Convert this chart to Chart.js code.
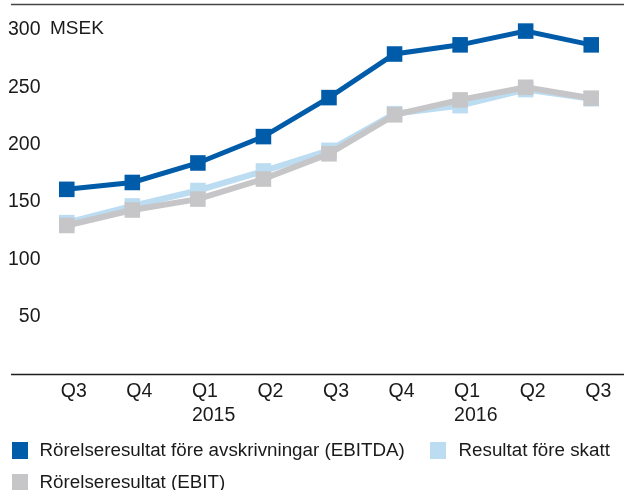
<!DOCTYPE html>
<html>
<head>
<meta charset="utf-8">
<script src="https://cdn.jsdelivr.net/npm/chart.js@4"></script>
<style>
  html, body { margin: 0; padding: 0; background: #fff; }
  #wrap { position: relative; width: 624px; height: 490px; overflow: hidden; }
  canvas { position: absolute; left: 0; top: 0; }
  .lg { position: absolute; font-family: 'Liberation Sans', Arial, sans-serif; font-size: 18.8px; color: #1a1a1a; white-space: nowrap; line-height: 18px; }
  .box { position: absolute; width: 16px; height: 16.5px; }
</style>
</head>
<body>
<div id="wrap">
  <canvas id="c" width="624" height="490"></canvas>
  <div class="box" id="b0" style="left:12px; top:442px;"></div>
  <div class="lg" id="t0" style="left:39.5px; top:441px;"></div>
  <div class="box" id="b1" style="left:430px; top:442px;"></div>
  <div class="lg" id="t1" style="left:458.5px; top:441px;"></div>
  <div class="box" id="b2" style="left:12px; top:473.5px;"></div>
  <div class="lg" id="t2" style="left:39.5px; top:472.5px;"></div>
</div>
<script>
const categories = ["Q3", "Q4", ["Q1", "2015"], "Q2", "Q3", "Q4", ["Q1", "2016"], "Q2", "Q3"];
const seriesNames = ["Rörelseresultat före avskrivningar (EBITDA)", "Resultat före skatt", "Rörelseresultat (EBIT)"];
const ebitda = [161, 167, 184, 207, 241, 279, 287, 299, 287];
const resultatForeSkatt = [132, 146.5, 160, 177, 195, 227, 234, 248, 240];
const ebit = [129.5, 143, 152.5, 170, 192, 226, 239, 250, 240.5];
const yTickValues = [50, 100, 150, 200, 250, 300];
const unitLabel = "MSEK";

const colors = ["#005ca9", "#bcdcf1", "#c6c6c8"];

[0, 1, 2].forEach(i => {
  document.getElementById('b' + i).style.background = colors[i];
  document.getElementById('t' + i).textContent = seriesNames[i];
});

const FONT = "'Liberation Sans', Arial, sans-serif";
Chart.defaults.font.family = FONT;
Chart.defaults.font.size = 19.5;
Chart.defaults.color = '#1a1a1a';

function zeroPad(scale) {
  scale.paddingTop = 0; scale.paddingBottom = 0;
  scale.paddingLeft = 0; scale.paddingRight = 0;
}

const decor = {
  id: 'decor',
  afterDraw(chart) {
    const ctx = chart.ctx;
    const y = chart.scales.y;
    ctx.save();
    ctx.strokeStyle = '#444444';
    ctx.lineWidth = 1.5;
    ctx.beginPath();
    ctx.moveTo(11, 4.5);
    ctx.lineTo(624, 4.5);
    ctx.stroke();
    ctx.strokeStyle = '#1e1e1e';
    ctx.lineWidth = 1.3;
    const yb = Math.round(y.getPixelForValue(0)) + 0.5;
    ctx.beginPath();
    ctx.moveTo(11, yb);
    ctx.lineTo(624, yb);
    ctx.stroke();
    ctx.fillStyle = '#1a1a1a';
    ctx.font = '19px ' + FONT;
    ctx.textAlign = 'left';
    ctx.textBaseline = 'middle';
    ctx.fillText(unitLabel, 50, y.getPixelForValue(yTickValues[yTickValues.length - 1]) - 1);
    ctx.restore();
  }
};

function ds(label, data, color, width, order) {
  return {
    label, data,
    borderColor: color,
    backgroundColor: color,
    borderWidth: width,
    pointStyle: 'rect',
    pointRadius: 11,
    pointHoverRadius: 11,
    pointBorderWidth: 0,
    pointBackgroundColor: color,
    tension: 0,
    clip: false,
    order
  };
}

new Chart(document.getElementById('c'), {
  type: 'line',
  data: {
    labels: categories,
    datasets: [
      ds(seriesNames[0], ebitda, colors[0], 5, 0),
      ds(seriesNames[1], resultatForeSkatt, colors[1], 6, 2),
      ds(seriesNames[2], ebit, colors[2], 6, 1)
    ]
  },
  options: {
    responsive: false,
    animation: false,
    events: [],
    layout: { autoPadding: false, padding: { top: 7, left: 0, right: 0, bottom: 0 } },
    plugins: { legend: { display: false }, tooltip: { enabled: false } },
    scales: {
      x: {
        type: 'category',
        offset: true,
        grid: { display: false, drawTicks: false },
        border: { display: false },
        ticks: {
          autoSkip: false,
          maxRotation: 0,
          align: 'start',
          labelOffset: -6,
          padding: 6,
          font: { size: 19.5, lineHeight: 1.22 }
        },
        afterFit(scale) { scale.height = 116; zeroPad(scale); }
      },
      y: {
        min: 0,
        max: 320,
        grid: { display: false, drawTicks: false },
        border: { display: false },
        ticks: {
          stepSize: 50,
          mirror: true,
          crossAlign: 'far',
          padding: -26,
          font: { size: 19.5 },
          callback: (v) => yTickValues.includes(v) ? String(v) : ''
        },
        afterFit(scale) { scale.width = 34; zeroPad(scale); }
      }
    }
  },
  plugins: [decor]
});
</script>
</body>
</html>
